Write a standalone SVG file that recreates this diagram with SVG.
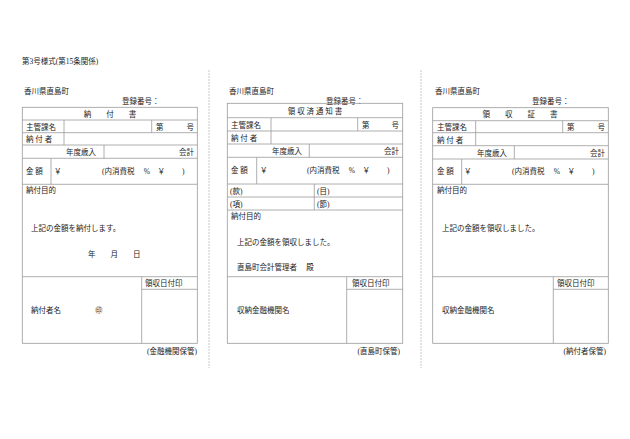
<svg xmlns="http://www.w3.org/2000/svg" width="630" height="439" viewBox="0 0 630 439">
<style>
text{font-family:"Liberation Serif","Noto Sans CJK JP",serif;font-size:7.5px;fill:#222}
.l{stroke:#9a9a9a;stroke-width:0.8;fill:none}
.d{stroke:#c8c8c8;stroke-width:1;stroke-dasharray:2 1;fill:none}
.m{text-anchor:middle}.e{text-anchor:end}
</style>
<rect width="630" height="439" fill="#fff"/>
<text x="22" y="64">第3号様式(第15条関係)</text>
<g id="separators"><line class="d" x1="209" y1="70" x2="209" y2="368"/><line class="d" x1="421" y1="70" x2="421" y2="368"/></g>
<g id="form1">
<text x="24" y="94">香川県直島町</text>
<text x="122" y="104">登録番号：</text>
<rect class="l" x="22.3" y="107.3" width="175" height="236"/>
<path class="l" d="M22.3 120H197.3M22.3 132.7H197.3M22.3 145H197.3M22.3 158.3H197.3M22.3 184.3H197.3M22.3 276.7H197.3M64 120V145M151.7 120V132.7M104 145V158.3M51 158.3V184.3M141.7 276.7V343.3M141.7 289.3H197.3"/>
<text class="m" x="110" y="117">納　　付　　書</text>
<text x="26" y="129.5">主管課名</text><text x="156" y="129.5">第</text><text class="e" x="194" y="129.5">号</text>
<text x="26" y="142">納 付 者</text>
<text x="66" y="155">年度歳入</text><text class="e" x="194" y="155">会計</text>
<text x="26" y="174">金 額</text><text x="54" y="174">￥</text><text x="102" y="174">(内消費税　 %　￥　　 )</text>
<text x="26" y="193">納付目的</text>
<text x="31" y="231">上記の金額を納付します。</text>
<text x="88" y="257">年　　月　　日</text>
<text x="145" y="286">領収日付印</text>
<text x="31" y="313">納付者名</text><text x="95" y="313">㊞</text>
<text class="e" x="197" y="354">(金融機関保管)</text>
</g>
<g id="form2">
<text x="229" y="94">香川県直島町</text>
<text x="326" y="104">登録番号：</text>
<rect class="l" x="227.3" y="103.3" width="175.4" height="240"/>
<path class="l" d="M227.3 117.7H402.7M227.3 131H402.7M227.3 144H402.7M227.3 157.3H402.7M227.3 184H402.7M227.3 197H402.7M227.3 210H402.7M227.3 276.7H402.7M271 117.7V144M357.7 117.7V131M309.3 144V157.3M256.7 157.3V184M314.3 184V210M346.7 276.7V343.3M346.7 289.3H402.7"/>
<text class="m" x="315" y="114">領 収 済 通 知 書</text>
<text x="231" y="128">主管課名</text><text x="362" y="128">第</text><text class="e" x="399" y="128">号</text>
<text x="231" y="141">納 付 者</text>
<text x="272" y="154">年度歳入</text><text class="e" x="399" y="154">会計</text>
<text x="231" y="173">金 額</text><text x="260" y="173">￥</text><text x="307" y="173">(内消費税　 %　￥　　 )</text>
<text x="230" y="194">(款)</text><text x="317" y="194">(目)</text>
<text x="230" y="207">(項)</text><text x="317" y="207">(節)</text>
<text x="231" y="219">納付目的</text>
<text x="237" y="245">上記の金額を領収しました。</text>
<text x="237" y="270">直島町会計管理者　 殿</text>
<text x="352" y="286">領収日付印</text>
<text x="237" y="313">収納金融機関名</text>
<text class="e" x="400" y="354">(直島町保管)</text>
</g>
<g id="form3">
<text x="435" y="94">香川県直島町</text>
<text x="532" y="104">登録番号：</text>
<rect class="l" x="432.7" y="107.7" width="175.6" height="235.6"/>
<path class="l" d="M432.7 120.7H608.3M432.7 132.7H608.3M432.7 145.7H608.3M432.7 159H608.3M432.7 184.3H608.3M432.7 276.7H608.3M475.7 120.7V145.7M562.7 120.7V132.7M514.3 145.7V159M461.7 159V184.3M553.3 276.7V343.3M553.3 289.3H608.3"/>
<text class="m" x="520" y="117">領　　収　　証　　書</text>
<text x="437" y="130">主管課名</text><text x="567" y="130">第</text><text class="e" x="605" y="130">号</text>
<text x="437" y="142.5">納 付 者</text>
<text x="477" y="155.5">年度歳入</text><text class="e" x="605" y="155.5">会計</text>
<text x="437" y="174">金 額</text><text x="464" y="174">￥</text><text x="512" y="174">(内消費税　 %　￥　　 )</text>
<text x="437" y="193">納付目的</text>
<text x="442" y="231">上記の金額を領収しました。</text>
<text x="557" y="286">領収日付印</text>
<text x="442" y="313">収納金融機関名</text>
<text class="e" x="606" y="354">(納付者保管)</text>
</g>
</svg>
